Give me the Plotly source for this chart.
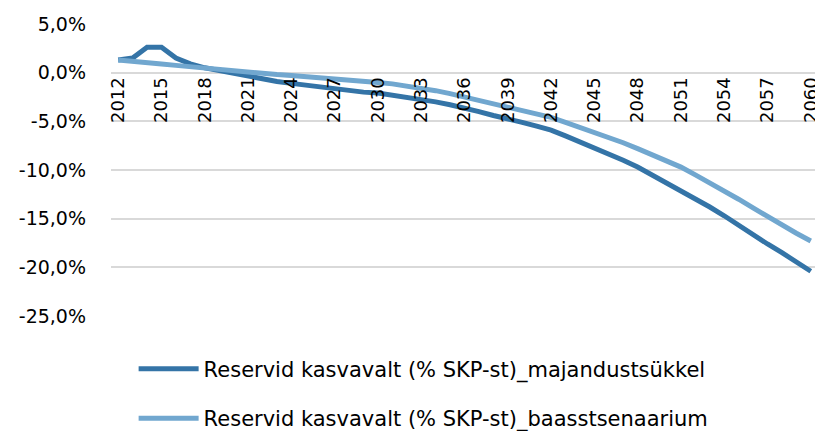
import plotly.graph_objects as go

years = list(range(2012, 2061))

# Reserves growth (% of GDP)
majandustsukkel = [
    1.3, 1.5, 2.6, 2.6, 1.5, 0.9, 0.5, 0.2, -0.1, -0.4,
    -0.7, -0.9, -1.1, -1.3, -1.5, -1.7, -1.8, -2.0, -2.1, -2.3,
    -2.5, -2.7, -3.0, -3.3, -3.6, -4.0, -4.4, -4.7, -5.1, -5.5,
    -5.9, -6.5, -7.1, -7.7, -8.3, -9.0, -9.7, -10.5, -11.3, -12.1,
    -12.9, -13.8, -14.7, -15.7, -16.6, -17.6, -18.5, -19.5, -20.4,
]
baasstsenaarium = [
    1.3, 1.2, 1.05, 0.9, 0.75, 0.6, 0.45, 0.3, 0.15, 0.0,
    -0.1, -0.2, -0.3, -0.4, -0.5, -0.65, -0.75, -0.85, -1.0, -1.15,
    -1.35, -1.6, -1.85, -2.15, -2.5, -2.85, -3.2, -3.55, -3.9, -4.25,
    -4.6, -5.1, -5.6, -6.1, -6.6, -7.2, -7.8, -8.4, -9.0, -9.7,
    -10.5, -11.3, -12.1, -13.0, -13.9, -14.8, -15.6, -16.5, -17.3,
]
series_names = [
    "Reservid kasvavalt (% SKP-st)_majandustsükkel",
    "Reservid kasvavalt (% SKP-st)_baasstsenaarium",
]
series_colors = ["#3474A7", "#71A7CF"]

y_ticks = [5, 0, -5, -10, -15, -20, -25]
y_ticktext = [f"{v:.1f}".replace(".", ",") + "%" for v in y_ticks]
x_ticks = years[::3]

FONT = "DejaVu Sans"

fig = go.Figure()
for i, (name, values, color) in enumerate(zip(series_names, [majandustsukkel, baasstsenaarium], series_colors)):
    fig.add_trace(go.Scatter(
        x=years, y=values, name=name, mode="lines", legendgroup=f"g{i}",
        line=dict(color=color, width=5),
    ))

# page body has an 8px margin, so the figure is a bit smaller than the window
fig.update_layout(
    width=815, height=423,
    margin=dict(l=103, r=5, t=16, b=115, autoexpand=False),
    plot_bgcolor="white", paper_bgcolor="white",
    font=dict(family=FONT, size=18, color="#000000"),
    showlegend=True,
    legend=dict(
        orientation="v", x=0.032, xanchor="left", y=-0.112, yanchor="top",
        font=dict(size=21), tracegroupgap=19, itemwidth=60,
    ),
)
fig.update_xaxes(
    range=[2011.5, 2060.5], tickvals=x_ticks, ticktext=[str(v) for v in x_ticks],
    tickangle=-90, anchor="free", position=25 / 30, automargin=False,
    showgrid=False, showline=False, zeroline=False, ticks="",
    tickfont=dict(size=18),
)
fig.update_yaxes(
    range=[-25, 5], tickvals=y_ticks, ticktext=y_ticktext, automargin=False,
    showgrid=True, gridcolor="#D9D9D9", gridwidth=1.5,
    zeroline=False, showline=False, ticks="", ticklabelstandoff=24,
    tickfont=dict(size=19),
)

fig.write_html("out.html")
